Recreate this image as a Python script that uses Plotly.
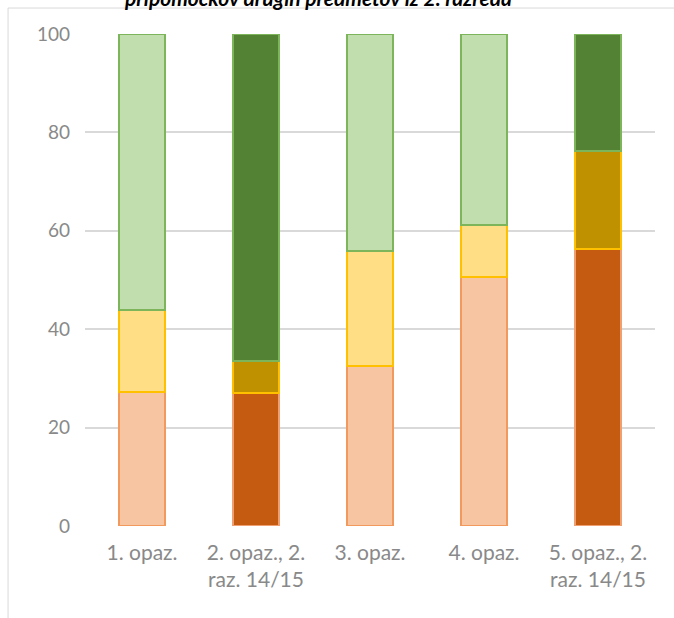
import plotly.graph_objects as go

# Observation rounds (x categories)
categories = [
    "1. opaz.",
    "2. opaz., 2.<br>raz. 14/15",
    "3. opaz.",
    "4. opaz.",
    "5. opaz., 2.<br>raz. 14/15",
]

# Stacked shares in percent, bottom to top
orange_vals = [27.3, 27.1, 32.6, 50.7, 56.3]
yellow_vals = [16.6, 6.5, 23.3, 10.5, 19.9]
green_vals = [56.1, 66.4, 44.1, 38.8, 23.8]

y_ticks = [0, 20, 40, 60, 80, 100]

title_text = "pripomočkov drugih predmetov iz 2. razreda"

# Light tones for regular observations, dark tones for the 2nd-grade rounds
highlight = [False, True, False, False, True]


def pick(light, dark):
    return [dark if h else light for h in highlight]


series = [
    (orange_vals, pick("#F8C5A3", "#C55A11"), pick("#F29A5E", "#F0A070")),
    (yellow_vals, pick("#FFDE85", "#BF9000"), pick("#FFC000", "#FFC000")),
    (green_vals, pick("#C1DEAE", "#548235"), pick("#7DB55A", "#7DB55A")),
]

fig = go.Figure()
for vals, fills, lines in series:
    fig.add_trace(go.Bar(
        x=categories,
        y=vals,
        marker=dict(color=fills, line=dict(color=lines, width=2)),
        hoverinfo="skip",
    ))

fig.update_layout(
    width=674,
    height=618,
    barmode="stack",
    bargap=0.596,
    showlegend=False,
    paper_bgcolor="white",
    plot_bgcolor="white",
    margin=dict(l=85, r=19, t=34, b=92),
    font=dict(family="Lato", color="#898989", size=19),
    xaxis=dict(
        showgrid=False,
        showline=False,
        ticks="",
        ticklabelstandoff=12,
        tickfont=dict(size=21, color="#898989"),
    ),
    yaxis=dict(
        range=[0, 100],
        tickvals=y_ticks,
        showgrid=True,
        gridcolor="#D9D9D9",
        gridwidth=1.5,
        zeroline=False,
        showline=False,
        ticks="",
        ticklabelstandoff=14,
        tickfont=dict(size=19, color="#898989"),
    ),
    shapes=[
        dict(
            type="rect", xref="paper", yref="paper",
            x0=-0.135, x1=1.06, y0=-0.25, y1=1.0528,
            line=dict(color="#D9D9D9", width=1),
            fillcolor="rgba(0,0,0,0)", layer="below",
        )
    ],
    annotations=[
        dict(
            text="<b><i>" + title_text + "</i></b>",
            xref="paper", yref="paper",
            x=0.409, y=1.045,
            xanchor="center", yanchor="bottom",
            showarrow=False,
            font=dict(family="Lato", size=21, color="black"),
        )
    ],
)

fig.write_html("out.html")
